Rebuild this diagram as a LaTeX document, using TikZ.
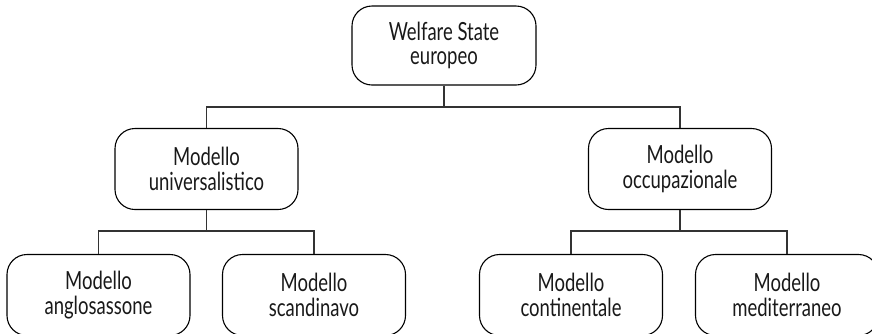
\documentclass[tikz,border=0pt]{standalone}
\usepackage{fontspec}
\setmainfont{Lato}[FakeStretch=0.74]
\begin{document}
\begin{tikzpicture}[x=1pt,y=-1pt,
  model/.style={draw=black, line width=1.1pt, rounded corners=20pt,
    minimum width=183pt, minimum height=81pt, inner sep=0pt,
    align=center, font=\fontsize{25}{24.5}\selectfont, text=black!90},
  link/.style={draw=black!80, line width=1.1pt}]
\useasboundingbox (0,0) rectangle (872,333);
\clip (0,0) rectangle (872,333);
\fill[white] (0,0) rectangle (872,333);

% root of the tree
\node[model, minimum width=184pt, minimum height=79pt] (root) at (444,45.5) {Welfare State\\europeo};

% the two families of welfare models
\node[model] (uni) at (206.5,169) {Modello\\universalistico};
\node[model] (occ) at (680,169) {Modello\\occupazionale};

% the four regional models
\node[model] (ang) at (98.5,295) {Modello\\anglosassone};
\node[model] (sca) at (314,295) {Modello\\scandinavo};
\node[model] (con) at (571,295) {Modello\\continentale};
\node[model] (med) at (787,295) {Modello\\mediterraneo};

% junction points of the tree connectors
\coordinate (j0) at (root.south |- 0,107);
\coordinate (j1) at (uni.south |- 0,231);
\coordinate (j2) at (occ.south |- 0,231);

\draw[link] (root.south) -- (j0);
\draw[link] (uni.north) |- (j0) -| (occ.north);
\draw[link] (uni.south) -- (j1);
\draw[link] (ang.north) |- (j1) -| (sca.north);
\draw[link] (occ.south) -- (j2);
\draw[link] (con.north) |- (j2) -| (med.north);
\end{tikzpicture}
\end{document}
